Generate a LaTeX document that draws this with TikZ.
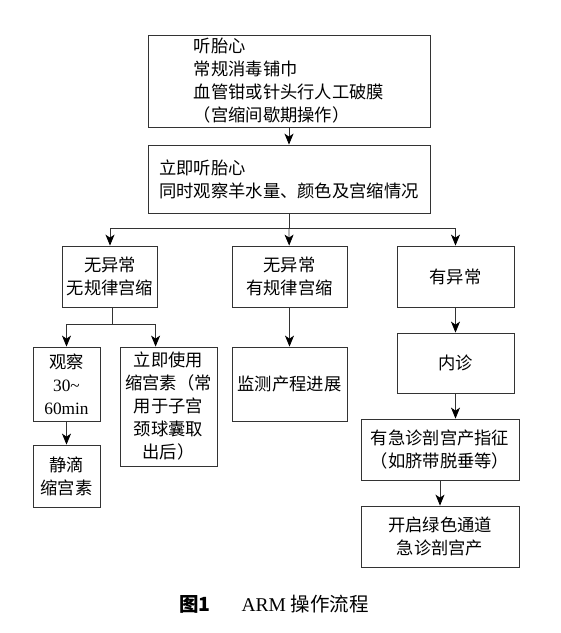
\documentclass[tikz,border=0pt]{standalone}
\usepackage{fontspec}
\setmainfont{Liberation Serif}
\newfontfamily\cjk{Noto Sans CJK SC}
\usepackage{tikz}
\usetikzlibrary{arrows.meta}

\begin{document}
\begin{tikzpicture}[
    x=1pt, y=-1pt,
    box/.style={rectangle, draw=black!80, line width=0.8pt, inner sep=0pt, align=center, font=\cjk\fontsize{17.3}{23}\selectfont},
    leftbox/.style={box, align=left},
    arr/.style={draw=black!80, line width=0.8pt, -{Stealth[length=11pt,width=9pt,inset=3pt,black]}},
    link/.style={draw=black!80, line width=0.8pt},
    caption/.style={font=\fontsize{19.5}{22}\selectfont}
]
\useasboundingbox (0,0) rectangle (561,633);
\node[leftbox, minimum width=282, minimum height=92] (listen) at (289,81) {听胎心\\常规消毒铺巾\\血管钳或针头行人工破膜\\（宫缩间歇期操作）};
\node[leftbox, minimum width=282, minimum height=68] (observe) at (289,179) {立即听胎心\\同时观察羊水量、颜色及宫缩情况};
\node[box, minimum width=95, minimum height=61] (irregular) at (110,276.5) {无异常\\无规律宫缩};
\node[box, minimum width=115, minimum height=61] (regular) at (289.5,276.5) {无异常\\有规律宫缩};
\node[box, minimum width=117, minimum height=61] (abnormal) at (455.5,276.5) {有异常};
\node[box, minimum width=67, minimum height=74] (wait) at (66.5,384) {观察\\{\rmfamily 30\textasciitilde}\\{\rmfamily 60min}};
\node[box, minimum width=97, minimum height=119] (oxytocin) at (168.5,406.5) {立即使用\\缩宫素（常\\用于子宫\\颈球囊取\\出后）};
\node[box, minimum width=67, minimum height=62] (drip) at (66.5,476) {静滴\\缩宫素};
\node[box, minimum width=115, minimum height=74] (monitor) at (289.5,384) {监测产程进展};
\node[box, minimum width=117, minimum height=60] (exam) at (455.5,363) {内诊};
\node[box, minimum width=158, minimum height=61] (indication) at (440,449.5) {有急诊剖宫产指征\\（如脐带脱垂等）};
\node[box, minimum width=158, minimum height=61] (section) at (440,536.5) {开启绿色通道\\急诊剖宫产};
\node[caption] (title) at (274,604) {{\cjk\bfseries 图1}\hspace{1.6em}ARM {\cjk 操作流程}};
\coordinate (split) at (289,228);
\coordinate (split2) at (112,324);
\draw[arr] (listen) -- (observe);
\draw[link] (observe) -- (split);
\draw[arr] (split) -| (irregular);
\draw[arr] (split) -- (regular);
\draw[arr] (split) -| (abnormal);
\draw[link] (irregular.south -| split2) -- (split2);
\draw[arr] (split2) -| (wait);
\draw[arr] (split2) -| ([xshift=36]oxytocin.north west);
\draw[arr] (wait) -- (drip);
\draw[arr] (regular) -- (monitor);
\draw[arr] (abnormal) -- (exam);
\draw[arr] (exam.south) -- (exam.south |- indication.north);
\draw[arr] (indication) -- (section);
\end{tikzpicture}
\end{document}
